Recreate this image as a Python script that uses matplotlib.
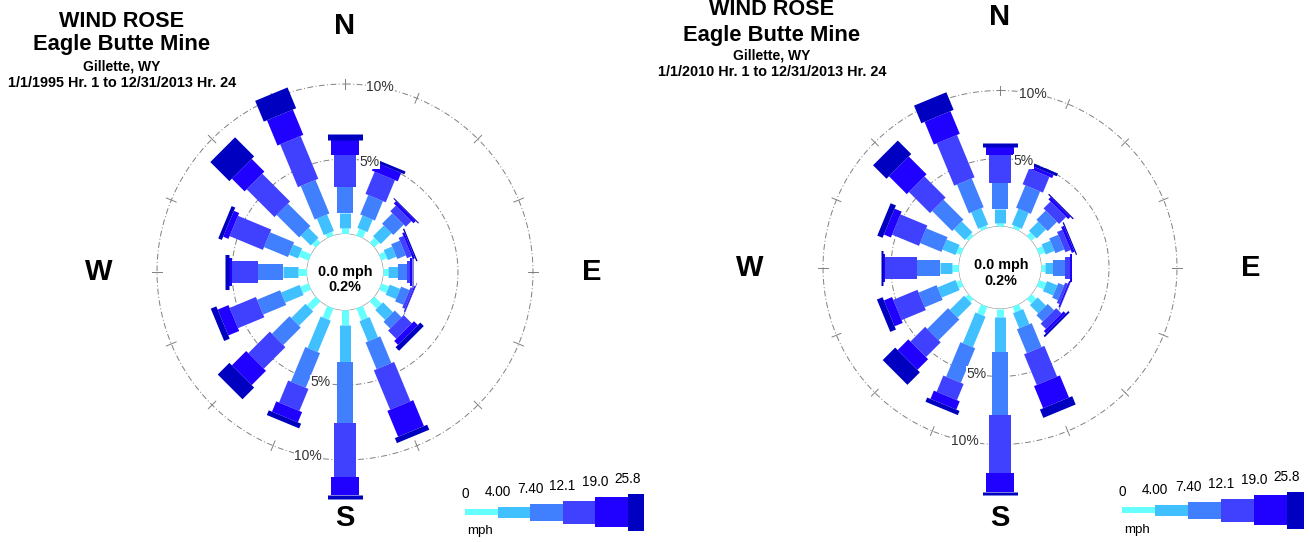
import numpy as np
import matplotlib
matplotlib.use("Agg")
import matplotlib.pyplot as plt

plt.rcParams['font.family'] = ['Liberation Sans', 'DejaVu Sans']

# directions clockwise from north
directions = ['N', 'NNE', 'NE', 'ENE', 'E', 'ESE', 'SE', 'SSE',
              'S', 'SSW', 'SW', 'WSW', 'W', 'WNW', 'NW', 'NNW']
speed_edges = ['0', '4.00', '7.40', '12.1', '19.0', '25.8']
bin_colors = ['#66FFFF', '#40C0FF', '#4080FF', '#4040FF', '#2000FF', '#0000C0']

# frequency (%) per direction, one value per speed class
freq_1995 = [
    [0.38, 1.00, 1.77, 2.12, 1.00, 0.43],
    [0.50, 0.90, 1.40, 1.60, 0.60, 0.20],
    [0.47, 1.02, 0.98, 0.53, 0.20, 0.07],
    [0.41, 0.61, 0.62, 0.34, 0.15, 0.09],
    [0.35, 0.67, 0.56, 0.22, 0.15, 0.05],
    [0.55, 0.75, 0.60, 0.20, 0.07, 0.03],
    [0.69, 0.94, 0.63, 0.78, 0.36, 0.33],
    [0.87, 1.46, 1.93, 2.84, 1.87, 0.36],
    [1.00, 2.45, 4.10, 3.55, 1.23, 0.27],
    [0.83, 2.27, 2.50, 1.59, 0.74, 0.34],
    [0.83, 1.34, 1.65, 2.03, 1.35, 1.10],
    [0.60, 1.33, 1.66, 1.90, 0.78, 0.40],
    [0.58, 1.00, 1.67, 1.75, 0.20, 0.27],
    [0.71, 0.65, 1.73, 2.40, 0.38, 0.26],
    [0.33, 0.93, 2.12, 2.62, 1.20, 1.80],
    [0.28, 1.19, 2.42, 3.09, 1.82, 1.50],
]
freq_2010 = [
    [0.24, 1.02, 1.92, 2.08, 0.61, 0.25],
    [0.23, 1.27, 1.78, 1.25, 0.25, 0.22],
    [0.40, 0.96, 0.96, 0.73, 0.23, 0.09],
    [0.46, 0.69, 0.71, 0.42, 0.22, 0.09],
    [0.30, 0.60, 0.86, 0.37, 0.12, 0.05],
    [0.57, 0.81, 0.46, 0.22, 0.11, 0.03],
    [0.50, 0.86, 0.66, 0.55, 0.23, 0.14],
    [0.46, 1.20, 1.90, 2.44, 1.76, 0.66],
    [0.60, 2.58, 4.65, 4.27, 1.37, 0.24],
    [0.73, 2.44, 2.75, 1.29, 0.66, 0.33],
    [0.32, 1.48, 2.16, 1.53, 1.11, 1.30],
    [0.36, 1.43, 1.43, 1.93, 0.65, 0.45],
    [0.54, 0.86, 1.71, 2.33, 0.16, 0.14],
    [0.36, 1.04, 1.70, 2.14, 0.56, 0.42],
    [0.25, 1.12, 2.08, 2.20, 1.85, 1.40],
    [0.23, 1.31, 2.29, 3.37, 1.80, 1.40],
]
calm = 0.2
rings = [5, 10]

titles_1995 = ['WIND ROSE', 'Eagle Butte Mine', 'Gillette, WY',
               '1/1/1995 Hr. 1 to 12/31/2013 Hr. 24']
titles_2010 = ['WIND ROSE', 'Eagle Butte Mine', 'Gillette, WY',
               '1/1/2010 Hr. 1 to 12/31/2013 Hr. 24']

W, H = 1309, 542
fig = plt.figure(figsize=(W / 100, H / 100), dpi=100)

ov = fig.add_axes([0, 0, 1, 1])
ov.set_xlim(0, W)
ov.set_ylim(H, 0)
ov.axis('off')
ov.patch.set_alpha(0)

bar_px = np.array([7, 11, 16, 22, 28, 35])
leg_px = np.array([6, 11, 17, 23, 30, 37])


def rose(freq, cx, cy, r0, k, rmax, lab_r):
    R = r0 + k * rmax
    ax = fig.add_axes([(cx - R) / W, 1 - (cy + R) / H, 2 * R / W, 2 * R / H],
                      projection='polar')
    ax.set_theta_zero_location('N')
    ax.set_theta_direction(-1)
    ax.set_ylim(0, rmax)
    ax.set_rorigin(-r0 / k)
    ax.set_axis_off()

    t = np.linspace(0, 2 * np.pi, 721)
    ax.plot(t, np.zeros_like(t), color='#909090', lw=0.8)
    for rr in rings:
        ax.plot(t, np.full_like(t, rr), color='#808080', lw=0.7,
                dashes=(6, 2.5, 1, 2.5))
    ang = np.deg2rad(np.arange(16) * 22.5)
    for a in ang:
        ax.plot([a, a], [rings[-1] - 0.35, rings[-1] + 0.35], color='#808080', lw=0.7)

    for i, a in enumerate(ang):
        cum = np.cumsum(freq[i])
        start = np.concatenate([[0], cum[:-1]])
        for j in range(len(cum)):
            ax.plot([a, a], [start[j], cum[j]], color=bin_colors[j],
                    lw=bar_px[j] * 0.72, solid_capstyle='butt')

    for rr, deg_top, deg_bot in [(5, 12.5, 192.5), (10, 10.8, 191.3)]:
        for d in (deg_top, deg_bot):
            ax.text(np.deg2rad(d), rr, f'{rr}%', fontsize=10, color='#333333',
                    ha='center', va='center',
                    bbox=dict(facecolor='white', edgecolor='none', pad=0.3))

    for name, d in zip(['N', 'E', 'S', 'W'], [0, 90, 180, 270]):
        ax.text(np.deg2rad(d), lab_r, name, fontsize=21, fontweight='bold',
                ha='center', va='center', clip_on=False)
    return ax


rose(freq_1995, 345, 272, 38, 15.0, 14.0, 13.9)
rose(freq_2010, 1000, 267.5, 41, 13.6, 15.5, 15.4)


def title_block(lines, x, y_base):
    sizes = [15.6, 15.8, 10.0, 10.4]
    for txt, yb, fs in zip(lines, y_base, sizes):
        ov.text(x, yb, txt, fontsize=fs, fontweight='bold', ha='center', va='baseline')


title_block(titles_1995, 122, [26.7, 50, 70.7, 86.7])
title_block(titles_2010, 772, [15, 40.7, 60, 76])

for x, y1, y2 in [(345, 272, 287), (1001, 265, 281)]:
    ov.text(x, y1, '0.0 mph', fontsize=10.4, fontweight='bold', ha='center', va='center')
    ov.text(x, y2, f'{calm}%', fontsize=10.4, fontweight='bold', ha='center', va='center')


def legend(x0, yc, seg, last, mph_x, mph_y):
    widths = np.array([seg] * 5 + [last])
    lefts = x0 + np.concatenate([[0], np.cumsum(widths)[:-1]])
    ov.bar(lefts, leg_px, width=widths, bottom=yc - leg_px / 2, align='edge',
           color=bin_colors, linewidth=0)
    for lx, h, lab in zip(lefts, leg_px, speed_edges):
        ov.text(lx, yc - h / 2 - 10.5, lab, fontsize=9.8, ha='center', va='baseline')
    ov.text(mph_x, mph_y, 'mph', fontsize=9.6, ha='center', va='baseline')


legend(465, 512, 32.5, 16, 480, 534)
legend(1122, 510, 33, 17, 1137, 532.7)

fig.savefig('out.png', dpi=100)
